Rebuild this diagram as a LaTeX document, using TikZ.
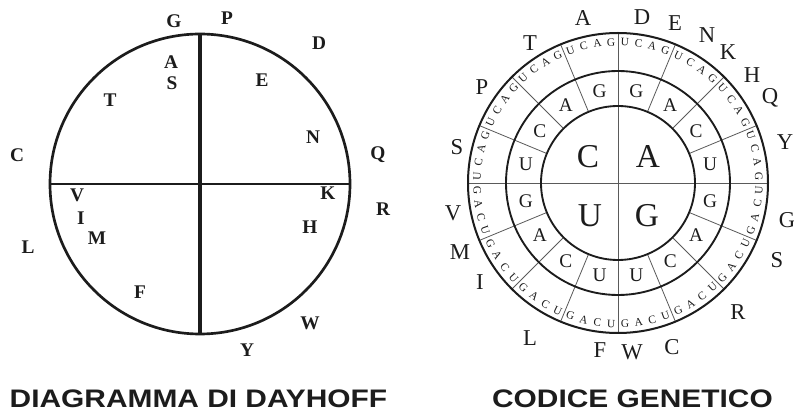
\documentclass[tikz,border=0pt]{standalone}
\usepackage{fontspec}
\setmainfont{Liberation Serif}
\newfontfamily\titlefont[FakeStretch=1.18]{Liberation Sans}
\usepackage{tikz}
\definecolor{dink}{HTML}{1C1C1C}
\definecolor{dgray}{HTML}{5A5A5A}

\begin{document}
\begin{tikzpicture}[x=0.75pt, y=0.75pt,
  dayletter/.style={font=\fontsize{14.5}{15}\selectfont\bfseries, text=dink, inner sep=0pt},
  aminoletter/.style={font=\fontsize{17}{18}\selectfont, text=dink, inner sep=0pt},
  firstbase/.style={font=\fontsize{25}{26}\selectfont, text=dink, inner sep=0pt},
  secondbase/.style={font=\fontsize{14.5}{15}\selectfont, text=dink, inner sep=0pt},
  thirdbase/.style={font=\fontsize{8.5}{9}\selectfont, text=dink, inner sep=0pt},
  titletext/.style={font=\titlefont\bfseries\fontsize{19}{20}\selectfont, text=dink, inner sep=0pt}]

  \useasboundingbox[fill=white] (0,0) rectangle (794,-413);

  %% Dayhoff diagram
  \coordinate (dc) at (200,-184);
  \draw[dink, line width=2pt] (dc) circle (150);
  \draw[dink, line width=1.7pt] (dc) ++(-150,0) -- ++(300,0);
  \draw[dink, line width=2.4pt] (dc) ++(0,150) -- ++(0,-300);
  \foreach \px/\py/\aa [count=\i] in {
    174/21/G, 227/18/P, 319/43/D, 171/62/A, 172/83/S,
    262/80/E, 110/100/T, 313/137/N, 17/155/C, 378/155/Q,
    77/195/V, 328/193/K, 383/209/R, 81/218/I, 310/227/H,
    28/247/L, 97/238/M, 140/292/F, 310/323/W, 247/350/Y
  }{
    \node[dayletter] (dh\i) at (\px,-\py) {\aa};
  }

  %% Genetic code wheel
  \coordinate (gc) at (618,-183);
  \foreach \k in {1,2,3,5,6,7,9,10,11,13,14,15}{
    \draw[dgray, line width=0.6pt] ([shift={(22.5*\k:77)}]gc) -- ([shift={(22.5*\k:150)}]gc);
  }
  \draw[dgray, line width=0.6pt] (gc) ++(-150,0) -- ++(300,0);
  \draw[dgray, line width=0.6pt] (gc) ++(0,150) -- ++(0,-300);
  \draw[dink, line width=1.5pt] (gc) circle (150);
  \draw[dink, line width=1.4pt] (gc) circle (112);
  \draw[dink, line width=1.4pt] (gc) circle (77);

  %% first base (inner)
  \foreach \px/\py/\b in {588/157/C, 648/157/A, 590/216/U, 647/216/G}{
    \node[firstbase] (fb\b) at (\px,-\py) {\b};
  }

  %% second base (middle ring)
  \foreach \b [count=\k from 0] in {U,C,A,G,G,A,C,U,G,A,C,U,U,C,A,G}{
    \node[secondbase] (sb\k) at ([shift={(22.5*\k+11.25:94)}]gc) {\b};
  }

  %% third base (outer ring)
  \foreach \k in {0,...,15}{
    \foreach \b [count=\j] in {U,C,A,G}{
      \pgfmathsetmacro{\ang}{22.5*\k+22.5-(\j-0.5)*5.625}
      \pgfmathsetmacro{\rot}{\ang<180 ? \ang-90 : \ang+90}
      \node[thirdbase, rotate=\rot] (tb\k-\j) at ([shift={(\ang:141)}]gc) {\b};
    }
  }

  %% amino acids round the wheel
  \foreach \px/\py/\aa [count=\i] in {
    583/18/A, 642/17/D, 675/23/E, 707/35/N, 728/52/K,
    530/43/T, 752/75/H, 482/87/P, 770/98/Q, 457/147/S,
    785/142/Y, 453/213/V, 787/220/G, 460/252/M, 777/260/S,
    480/282/I, 738/312/R, 530/338/L, 672/347/C, 600/350/F, 632/352/W
  }{
    \node[aminoletter] (aa\i) at (\px,-\py) {\aa};
  }

  %% captions
  \node[titletext] (dtitle) at (198.5,-399) {DIAGRAMMA DI DAYHOFF};
  \node[titletext] (gtitle) at (632.5,-399) {CODICE GENETICO};

\end{tikzpicture}
\end{document}
